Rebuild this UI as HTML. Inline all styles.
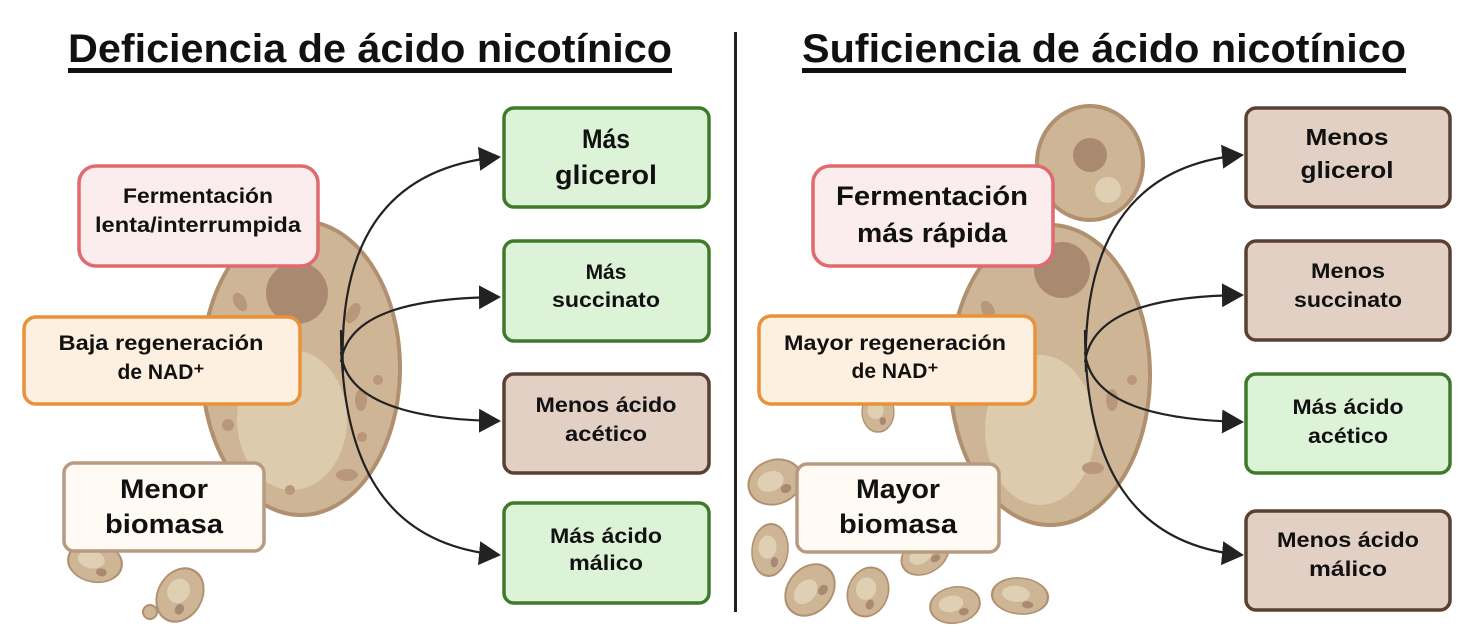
<!DOCTYPE html>
<html><head><meta charset="utf-8"><style>
html,body{margin:0;padding:0;background:#fff;}
svg{display:block;}
text{font-family:"Liberation Sans Narrow","Liberation Sans",sans-serif;font-weight:bold;fill:#111;text-anchor:middle;}
</style></head><body>
<svg width="1473" height="644" viewBox="0 0 1473 644" xmlns="http://www.w3.org/2000/svg">
<defs>
<marker id="ah" markerWidth="22" markerHeight="24" refX="20" refY="12" orient="auto" markerUnits="userSpaceOnUse" viewBox="0 0 22 24">
<path d="M0,0 L22,12 L0,24 z" fill="#222"/></marker>
<g id="sc">
<ellipse cx="0" cy="0" rx="1" ry="1" fill="#cdb596" stroke="#b0906e" stroke-width="0.08"/>
<ellipse cx="-0.15" cy="-0.1" rx="0.5" ry="0.45" fill="#dfd0b4"/>
<circle cx="0.3" cy="0.45" r="0.2" fill="#a98a70"/>
</g>
</defs>

<text x="370" y="62" font-size="40" textLength="604" lengthAdjust="spacingAndGlyphs">Deficiencia de ácido nicotínico</text>
<rect x="68" y="68" width="604" height="5" fill="#111"/>
<text x="1104" y="62" font-size="40" textLength="604" lengthAdjust="spacingAndGlyphs">Suficiencia de ácido nicotínico</text>
<rect x="802" y="68" width="604" height="5" fill="#111"/>
<rect x="734" y="32" width="3" height="580" fill="#222"/>

<g transform="translate(95,562) rotate(10) scale(27,20)"><use href="#sc"/></g>
<g transform="translate(180,595) rotate(30) scale(22,28)"><use href="#sc"/></g>
<circle cx="150" cy="612" r="7" fill="#cdb596" stroke="#b0906e" stroke-width="2"/>

<ellipse cx="301" cy="368" rx="99" ry="147" fill="#cdb596" stroke="#b0906e" stroke-width="4"/>
<ellipse cx="292" cy="420" rx="55" ry="70" fill="#dccbad"/>
<circle cx="297" cy="293" r="31" fill="#a98a70"/>
<ellipse cx="240" cy="302" rx="6" ry="10" fill="#b8977a" transform="rotate(-30 240 302)"/>
<ellipse cx="353" cy="313" rx="6" ry="11" fill="#b8977a" transform="rotate(30 353 313)"/>
<ellipse cx="361" cy="400" rx="6" ry="11" fill="#b8977a"/>
<ellipse cx="347" cy="475" rx="11" ry="6" fill="#b8977a"/>
<circle cx="228" cy="425" r="6" fill="#b8977a"/>
<circle cx="378" cy="380" r="5" fill="#b8977a"/>
<circle cx="362" cy="437" r="5" fill="#b8977a"/>
<circle cx="290" cy="490" r="5" fill="#b8977a"/>

<g transform="translate(775,482) rotate(-20) scale(27,22)"><use href="#sc"/></g>
<g transform="translate(770,550) rotate(5) scale(18,26)"><use href="#sc"/></g>
<g transform="translate(810,590) rotate(-50) scale(28,22)"><use href="#sc"/></g>
<g transform="translate(868,592) rotate(20) scale(20,25)"><use href="#sc"/></g>
<g transform="translate(955,605) rotate(-10) scale(25,18)"><use href="#sc"/></g>
<g transform="translate(1020,596) rotate(5) scale(28,18)"><use href="#sc"/></g>
<g transform="translate(925,555) rotate(-30) scale(25,18)"><use href="#sc"/></g>
<g transform="translate(878,412) rotate(0) scale(16,20)"><use href="#sc"/></g>
<ellipse cx="1050" cy="375" rx="100" ry="150" fill="#cdb596" stroke="#b0906e" stroke-width="4"/>
<ellipse cx="1040" cy="430" rx="55" ry="75" fill="#dccbad"/>
<circle cx="1062" cy="270" r="28" fill="#a98a70"/>
<ellipse cx="988" cy="310" rx="6" ry="10" fill="#b8977a" transform="rotate(-30 988 310)"/>
<ellipse cx="1112" cy="400" rx="6" ry="11" fill="#b8977a"/>
<ellipse cx="1093" cy="468" rx="11" ry="6" fill="#b8977a"/>
<circle cx="1132" cy="380" r="5" fill="#b8977a"/>
<ellipse cx="1090" cy="163" rx="53" ry="57" fill="#cdb596" stroke="#b0906e" stroke-width="4"/>
<circle cx="1090" cy="155" r="17" fill="#a98a70"/>
<circle cx="1108" cy="190" r="13" fill="#dfd0b4"/>

<g fill="none" stroke="#222" stroke-width="2.2">
<path d="M343,372 C338,250 380,168 499,157" marker-end="url(#ah)"/>
<path d="M341,330 C341,470 390,545 499,555" marker-end="url(#ah)"/>
<path d="M341,362 C348,310 420,298 499,297" marker-end="url(#ah)"/>
<path d="M341,352 C345,405 420,420 499,421" marker-end="url(#ah)"/>
<path d="M1086,372 C1082,250 1125,165 1242,155" marker-end="url(#ah)"/>
<path d="M1085,330 C1085,470 1135,545 1242,555" marker-end="url(#ah)"/>
<path d="M1085,362 C1092,310 1160,296 1242,295" marker-end="url(#ah)"/>
<path d="M1085,352 C1090,405 1160,420 1242,422" marker-end="url(#ah)"/>
</g>

<rect x="79" y="166" width="239" height="100" rx="17" fill="#fbecee" stroke="#e06a6e" stroke-width="3.5"/>
<text x="198" y="203" font-size="21" textLength="150" lengthAdjust="spacingAndGlyphs">Fermentación</text>
<text x="198" y="232" font-size="21" textLength="206" lengthAdjust="spacingAndGlyphs">lenta/interrumpida</text>
<rect x="24" y="317" width="276" height="87" rx="12" fill="#fdf0e0" stroke="#e8923a" stroke-width="3.5"/>
<text x="161" y="350" font-size="21" textLength="205" lengthAdjust="spacingAndGlyphs">Baja regeneración</text>
<text x="161" y="379" font-size="21">de NAD⁺</text>
<rect x="64" y="463" width="200" height="88" rx="10" fill="#fffbf4" stroke="#b89a80" stroke-width="3.5"/>
<text x="164" y="498" font-size="27" textLength="88" lengthAdjust="spacingAndGlyphs">Menor</text>
<text x="164" y="533" font-size="27" textLength="118" lengthAdjust="spacingAndGlyphs">biomasa</text>

<rect x="504" y="108" width="205" height="99" rx="10" fill="#ddf3d8" stroke="#3e7a2a" stroke-width="3.5"/>
<text x="606" y="148" font-size="27" textLength="48" lengthAdjust="spacingAndGlyphs">Más</text>
<text x="606" y="184" font-size="27" textLength="102" lengthAdjust="spacingAndGlyphs">glicerol</text>
<rect x="504" y="241" width="205" height="100" rx="10" fill="#ddf3d8" stroke="#3e7a2a" stroke-width="3.5"/>
<text x="606" y="279" font-size="21">Más</text>
<text x="606" y="307" font-size="21" textLength="108" lengthAdjust="spacingAndGlyphs">succinato</text>
<rect x="504" y="374" width="205" height="99" rx="10" fill="#e2d0c4" stroke="#5a4030" stroke-width="3.5"/>
<text x="606" y="412" font-size="21" textLength="141" lengthAdjust="spacingAndGlyphs">Menos ácido</text>
<text x="606" y="441" font-size="21" textLength="82" lengthAdjust="spacingAndGlyphs">acético</text>
<rect x="504" y="503" width="205" height="100" rx="10" fill="#ddf3d8" stroke="#3e7a2a" stroke-width="3.5"/>
<text x="606" y="543" font-size="21" textLength="112" lengthAdjust="spacingAndGlyphs">Más ácido</text>
<text x="606" y="570" font-size="21" textLength="74" lengthAdjust="spacingAndGlyphs">málico</text>

<rect x="813" y="166" width="240" height="100" rx="17" fill="#fbecee" stroke="#e06a6e" stroke-width="3.5"/>
<text x="932" y="205" font-size="27" textLength="192" lengthAdjust="spacingAndGlyphs">Fermentación</text>
<text x="932" y="242" font-size="27" textLength="150" lengthAdjust="spacingAndGlyphs">más rápida</text>
<rect x="759" y="316" width="276" height="88" rx="12" fill="#fdf0e0" stroke="#e8923a" stroke-width="3.5"/>
<text x="895" y="350" font-size="21" textLength="222" lengthAdjust="spacingAndGlyphs">Mayor regeneración</text>
<text x="895" y="378" font-size="21">de NAD⁺</text>
<rect x="797" y="464" width="202" height="88" rx="10" fill="#fffbf4" stroke="#b89a80" stroke-width="3.5"/>
<text x="898" y="498" font-size="27" textLength="84" lengthAdjust="spacingAndGlyphs">Mayor</text>
<text x="898" y="533" font-size="27" textLength="118" lengthAdjust="spacingAndGlyphs">biomasa</text>

<rect x="1246" y="108" width="204" height="99" rx="10" fill="#e2d0c4" stroke="#5a4030" stroke-width="3.5"/>
<text x="1347" y="145" font-size="23" textLength="83" lengthAdjust="spacingAndGlyphs">Menos</text>
<text x="1347" y="178" font-size="23" textLength="93" lengthAdjust="spacingAndGlyphs">glicerol</text>
<rect x="1246" y="241" width="204" height="99" rx="10" fill="#e2d0c4" stroke="#5a4030" stroke-width="3.5"/>
<text x="1348" y="278" font-size="21" textLength="74" lengthAdjust="spacingAndGlyphs">Menos</text>
<text x="1348" y="307" font-size="21" textLength="108" lengthAdjust="spacingAndGlyphs">succinato</text>
<rect x="1246" y="374" width="204" height="99" rx="10" fill="#ddf3d8" stroke="#3e7a2a" stroke-width="3.5"/>
<text x="1348" y="414" font-size="21" textLength="111" lengthAdjust="spacingAndGlyphs">Más ácido</text>
<text x="1348" y="443" font-size="21" textLength="80" lengthAdjust="spacingAndGlyphs">acético</text>
<rect x="1246" y="511" width="204" height="99" rx="10" fill="#e2d0c4" stroke="#5a4030" stroke-width="3.5"/>
<text x="1348" y="547" font-size="21" textLength="142" lengthAdjust="spacingAndGlyphs">Menos ácido</text>
<text x="1348" y="576" font-size="21" textLength="78" lengthAdjust="spacingAndGlyphs">málico</text>
</svg>
</body></html>
